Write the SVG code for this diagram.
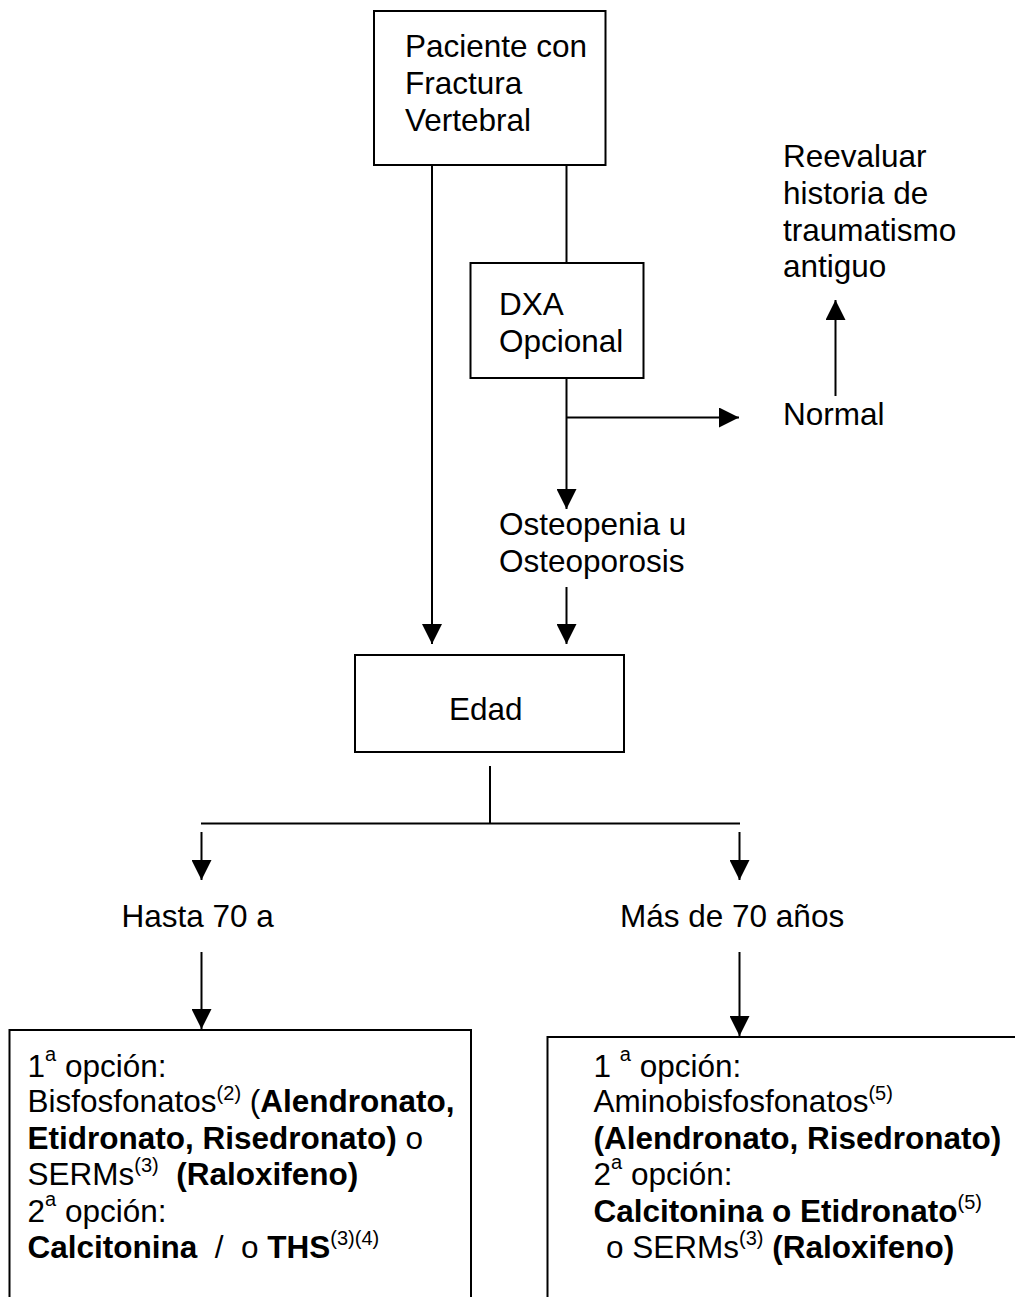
<svg xmlns="http://www.w3.org/2000/svg" width="1015" height="1297" viewBox="0 0 1015 1297">
  <style>
    text { font-family: "Liberation Sans", Arial, sans-serif; font-size: 31.5px; fill: #000; white-space: pre; }
    .b { font-weight: bold; }
    .sup { font-size: 20px; font-weight: normal; }
    .box { fill: #fff; stroke: #000; stroke-width: 2; }
    .line { fill: none; stroke: #000; stroke-width: 2; }
  </style>
  <defs>
    <marker id="arrow" markerUnits="userSpaceOnUse" markerWidth="20" markerHeight="20" refX="20" refY="10" orient="auto">
      <path d="M0,0 L20,10 L0,20 Z" fill="#000"/>
    </marker>
  </defs>

  <rect width="1015" height="1297" fill="#fff"/>

  <!-- connectors -->
  <g id="connectors">
    <line class="line" x1="432" y1="165" x2="432" y2="644" marker-end="url(#arrow)"/>
    <line class="line" x1="566.5" y1="165" x2="566.5" y2="263"/>
    <line class="line" x1="566.5" y1="378" x2="566.5" y2="509" marker-end="url(#arrow)"/>
    <line class="line" x1="566.5" y1="417.5" x2="739" y2="417.5" marker-end="url(#arrow)"/>
    <line class="line" x1="835.5" y1="396" x2="835.5" y2="300" marker-end="url(#arrow)"/>
    <line class="line" x1="566.5" y1="587" x2="566.5" y2="644" marker-end="url(#arrow)"/>
    <line class="line" x1="490" y1="766" x2="490" y2="823.5"/>
    <line class="line" x1="201" y1="823.5" x2="740" y2="823.5"/>
    <line class="line" x1="201.5" y1="832" x2="201.5" y2="880" marker-end="url(#arrow)"/>
    <line class="line" x1="739.5" y1="832" x2="739.5" y2="880" marker-end="url(#arrow)"/>
    <line class="line" x1="201.5" y1="952" x2="201.5" y2="1029" marker-end="url(#arrow)"/>
    <line class="line" x1="739.5" y1="952" x2="739.5" y2="1036" marker-end="url(#arrow)"/>
  </g>

  <!-- patient with vertebral fracture -->
  <g id="paciente">
    <rect class="box" x="374" y="11" width="231.5" height="154"/>
    <text x="405" y="57">Paciente con</text>
    <text x="405" y="94">Fractura</text>
    <text x="405" y="131">Vertebral</text>
  </g>

  <!-- optional densitometry -->
  <g id="dxa">
    <rect class="box" x="470.5" y="263" width="173" height="115"/>
    <text x="499" y="315">DXA</text>
    <text x="499" y="352">Opcional</text>
  </g>

  <g id="reevaluar">
    <text x="783" y="167">Reevaluar</text>
    <text x="783" y="204">historia de</text>
    <text x="783" y="240.5">traumatismo</text>
    <text x="783" y="277">antiguo</text>
  </g>

  <g id="normal">
    <text x="783" y="425">Normal</text>
  </g>

  <g id="osteopenia">
    <text x="499" y="535">Osteopenia u</text>
    <text x="499" y="572">Osteoporosis</text>
  </g>

  <g id="edad">
    <rect class="box" x="355" y="655" width="269" height="97"/>
    <text x="449" y="720">Edad</text>
  </g>

  <g id="hasta70">
    <text x="121.5" y="927">Hasta 70 a</text>
  </g>

  <g id="mas70">
    <text x="620" y="927">Más de 70 años</text>
  </g>

  <!-- treatment up to 70 years -->
  <g id="tratamiento-hasta70">
    <rect class="box" x="9.5" y="1030" width="461.5" height="320"/>
    <text x="27.5" y="1077">1<tspan class="sup" dy="-16">a</tspan><tspan dy="16"> opción:</tspan></text>
    <text x="27.5" y="1112">Bisfosfonatos<tspan class="sup" dy="-12.5">(2)</tspan><tspan dy="12.5"> (</tspan><tspan class="b">Alendronato,</tspan></text>
    <text x="27.5" y="1148.5"><tspan class="b">Etidronato, Risedronato)</tspan> o</text>
    <text x="27.5" y="1185">SERMs<tspan class="sup" dy="-13">(3)</tspan><tspan dy="13">  </tspan><tspan class="b">(Raloxifeno)</tspan></text>
    <text x="27.5" y="1221.5">2<tspan class="sup" dy="-16">a</tspan><tspan dy="16"> opción:</tspan></text>
    <text x="27.5" y="1258"><tspan class="b">Calcitonina</tspan>  /  o <tspan class="b">THS</tspan><tspan class="sup" dy="-13">(3)(4)</tspan></text>
  </g>

  <!-- treatment over 70 years -->
  <g id="tratamiento-mas70">
    <rect class="box" x="547.5" y="1037" width="500" height="320"/>
    <text x="593.5" y="1077">1 <tspan class="sup" dy="-16">a</tspan><tspan dy="16"> opción:</tspan></text>
    <text x="593.5" y="1112">Aminobisfosfonatos<tspan class="sup" dy="-12.5">(5)</tspan></text>
    <text x="593.5" y="1148.5" class="b">(Alendronato, Risedronato)</text>
    <text x="593.5" y="1185">2<tspan class="sup" dy="-16">a</tspan><tspan dy="16"> opción:</tspan></text>
    <text x="593.5" y="1221.5"><tspan class="b">Calcitonina o Etidronato</tspan><tspan class="sup" dy="-13">(5)</tspan></text>
    <text x="606" y="1258">o SERMs<tspan class="sup" dy="-13">(3)</tspan><tspan dy="13"> </tspan><tspan class="b">(Raloxifeno)</tspan></text>
  </g>
</svg>
